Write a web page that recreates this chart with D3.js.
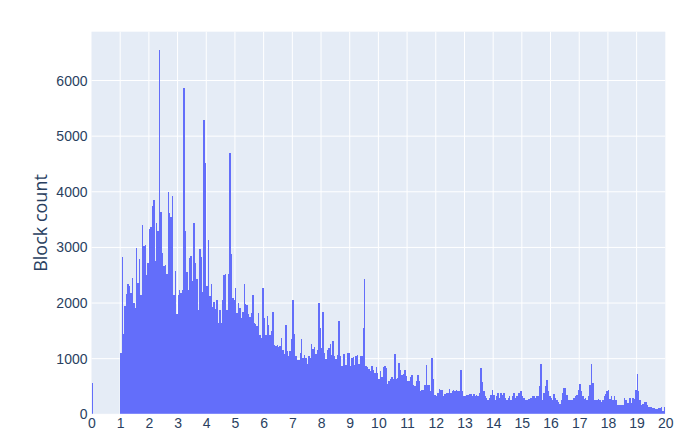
<!DOCTYPE html>
<html>
    <head>
        <meta charset="utf-8">
        <style>
            body {
                    margin: 0;
                    background: white;
            }
            svg {
                    font-family: "Open Sans", sans-serif;
            }
            .tick text {
                    fill: #2a3f5f;
                    font-size: 14px;
            }
            .axis path {
                    display: none;
            }
            .axis line {
                    display: none;
            }
            .bars rect {
                    shape-rendering: crispEdges;
            }
        </style>
    </head>

    <body>
        <script src="https://d3js.org/d3.v7.min.js"></script>
        <script>
            // histogram bins: start 0, size 0.05 (like plotly xbins)
            var binStart = 0;
            var binSize = 0.05;

            // block count per bin (400 bins, 0 to 20)
            var counts = [
                570, 0, 0, 0, 0, 0, 0, 0, 0, 0,
                0, 0, 0, 0, 0, 0, 0, 0, 0, 0,
                1100, 2830, 1440, 1940, 2170, 2340, 2300, 2180, 2450, 2000,
                1910, 2990, 2360, 2790, 2140, 3410, 3030, 3040, 2510, 2720,
                3330, 3370, 3740, 3860, 2750, 3430, 3290, 6550, 3630, 2900,
                2660, 2690, 2520, 3990, 3620, 3550, 3920, 2150, 2580, 1800,
                2150, 2230, 2180, 2240, 5860, 3300, 2550, 2230, 2810, 2850,
                2390, 3440, 2720, 2440, 1880, 2970, 2830, 2200, 5290, 4510,
                2300, 3140, 2120, 2340, 1930, 2010, 1890, 2050, 1650, 1870,
                1640, 2050, 2510, 2530, 1880, 2520, 4690, 2890, 2090, 2060,
                2270, 1820, 2000, 1910, 1730, 1830, 2340, 1980, 1960, 1810,
                1750, 1820, 2150, 1650, 1630, 1580, 1820, 1430, 1380, 2270,
                1730, 1430, 1760, 1600, 1420, 1490, 1830, 1250, 1230, 1250,
                1210, 1230, 1370, 1160, 1080, 1610, 1130, 1050, 1130, 1350,
                2060, 1450, 1040, 980, 970, 1100, 1350, 1010, 1070, 1010,
                910, 1040, 1010, 1260, 1170, 1210, 1090, 1160, 2000, 1550,
                1190, 1830, 1100, 990, 1150, 1190, 1270, 1070, 1310, 1050,
                990, 1070, 1680, 1040, 860, 1090, 1090, 890, 1110, 1110,
                860, 1010, 1030, 890, 1040, 1070, 910, 1050, 1040, 1550,
                2430, 870, 850, 820, 780, 870, 800, 740, 850, 750,
                630, 780, 670, 850, 870, 830, 545, 600, 630, 670,
                630, 1090, 630, 650, 920, 790, 700, 730, 800, 690,
                600, 600, 670, 710, 530, 510, 600, 710, 600, 420,
                430, 430, 530, 890, 530, 530, 420, 1010, 630, 350,
                320, 390, 450, 440, 430, 330, 360, 380, 390, 450,
                390, 410, 440, 410, 440, 410, 420, 790, 410, 330,
                320, 350, 350, 370, 370, 330, 370, 330, 350, 330,
                390, 830, 580, 410, 330, 290, 260, 290, 350, 440,
                350, 260, 320, 380, 290, 380, 350, 380, 290, 260,
                290, 320, 260, 330, 380, 290, 320, 380, 390, 410,
                330, 290, 260, 250, 270, 270, 290, 330, 320, 290,
                320, 320, 510, 910, 260, 380, 500, 610, 410, 320,
                290, 260, 370, 290, 250, 230, 190, 260, 380, 470,
                470, 350, 260, 250, 260, 250, 290, 320, 350, 440,
                540, 410, 320, 270, 290, 260, 330, 520, 910, 570,
                260, 250, 260, 270, 260, 230, 260, 320, 370, 410,
                430, 270, 320, 260, 320, 260, 170, 170, 160, 170,
                160, 290, 260, 210, 210, 290, 210, 290, 270, 440,
                720, 410, 260, 160, 190, 230, 230, 160, 140, 140,
                140, 120, 120, 100, 100, 110, 110, 140, 60, 140
            ];

            var xTicks = d3.range(0, 21, 1);
            var yTicks = [0, 1000, 2000, 3000, 4000, 5000, 6000];
            var yTitle = "Block count";

            var data = counts.map(function(c, i) {
                return {x0: binStart + i * binSize, x1: binStart + (i + 1) * binSize, count: c};
            });

            // set the dimensions and margins of the graph
            var W = 700, H = 439;
            var margin = {top: 31.7, right: 34.7, bottom: 24.7, left: 91.5},
                width = W - margin.left - margin.right,
                height = H - margin.top - margin.bottom;

            var svg = d3.select("body").append("svg")
                    .attr("width", W)
                    .attr("height", H);

            var g = svg.append("g")
                    .attr("transform", "translate(" + margin.left + "," + margin.top + ")");

            var x = d3.scaleLinear()
                .domain([0, 20])
                .range([0, width]);

            var y = d3.scaleLinear()
                .domain([0, d3.max(counts) * 1.05])
                .range([height, 0]);

            // background
            g.append("rect")
                .attr("width", width)
                .attr("height", height)
                .attr("fill", "#e5ecf6");

            // grid lines
            g.selectAll(".xgrid")
                .data(xTicks.filter(function(d) { return d > 0 && d < 20; }))
                .enter().append("line")
                .attr("x1", function(d) { return x(d); })
                .attr("x2", function(d) { return x(d); })
                .attr("y1", 0)
                .attr("y2", height)
                .attr("stroke", "white")
                .attr("stroke-width", 1);

            g.selectAll(".ygrid")
                .data(yTicks.filter(function(d) { return d > 0; }))
                .enter().append("line")
                .attr("x1", 0)
                .attr("x2", width)
                .attr("y1", function(d) { return y(d); })
                .attr("y2", function(d) { return y(d); })
                .attr("stroke", "white")
                .attr("stroke-width", 1);

            // bars
            g.append("g")
                .attr("class", "bars")
                .selectAll("rect")
                .data(data.filter(function(d) { return d.count > 0; }))
                .enter().append("rect")
                .attr("x", function(d) { return x(d.x0); })
                .attr("y", function(d) { return y(d.count); })
                .attr("width", function(d) { return x(d.x1) - x(d.x0); })
                .attr("height", function(d) { return y(0) - y(d.count); })
                .attr("fill", "#636efa");

            // zero line
            g.append("line")
                .attr("x1", 0)
                .attr("x2", width)
                .attr("y1", y(0))
                .attr("y2", y(0))
                .attr("stroke", "white")
                .attr("stroke-width", 1);

            // Add the X Axis
            g.append("g")
                .attr("class", "axis")
                .attr("transform", "translate(0," + height + ")")
                .call(d3.axisBottom(x).tickValues(xTicks).tickSize(0).tickPadding(4).tickFormat(d3.format("d")));

            // Add the Y Axis
            g.append("g")
                .attr("class", "axis")
                .call(d3.axisLeft(y).tickValues(yTicks).tickSize(0).tickPadding(4).tickFormat(d3.format("d")));

            svg.append("text")
                .attr("text-anchor", "middle")
                .attr("transform", "translate(47," + (margin.top + height / 2) + ")rotate(-90)")
                .attr("font-size", 18)
                .attr("fill", "#2a3f5f")
                .text(yTitle);
        </script>
    </body>
</html>
